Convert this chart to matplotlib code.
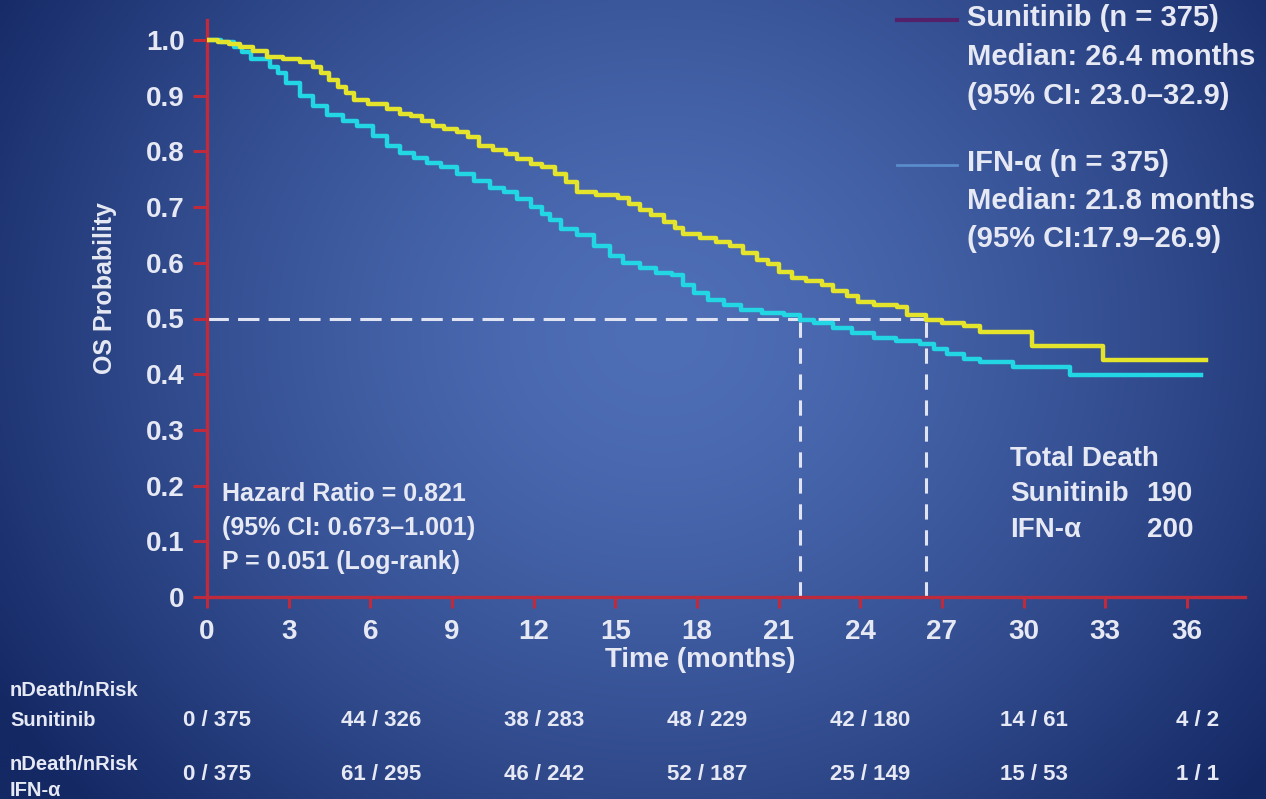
import numpy as np
import matplotlib
matplotlib.use("Agg")
import matplotlib.pyplot as plt
from matplotlib.transforms import blended_transform_factory

plt.rcParams['font.family'] = ['Liberation Sans', 'DejaVu Sans']
plt.rcParams['font.weight'] = 'bold'

# ---- Kaplan-Meier step data (months, survival probability) ----
sun_t = [0, 0.4, 0.8, 1.2, 1.7, 2.2, 2.8, 3.4, 3.9, 4.2, 4.5, 4.8, 5.1, 5.4, 5.9,
         6.6, 7.1, 7.5, 7.9, 8.3, 8.7, 9.2, 9.6, 10.0, 10.5, 11.0, 11.4, 11.9,
         12.3, 12.8, 13.2, 13.6, 14.3, 15.1, 15.5, 15.9, 16.3, 16.8, 17.2, 17.5,
         18.1, 18.7, 19.2, 19.7, 20.2, 20.6, 21.0, 21.5, 22.0, 22.6, 23.0, 23.5,
         23.9, 24.5, 25.35, 25.7, 26.4, 27.0, 27.8, 28.4, 30.3, 32.9, 36.7]
sun_s = [1.0, 0.997, 0.993, 0.988, 0.980, 0.970, 0.965, 0.960, 0.952, 0.940,
         0.928, 0.915, 0.905, 0.893, 0.885, 0.876, 0.868, 0.864, 0.855, 0.846,
         0.840, 0.834, 0.825, 0.810, 0.803, 0.795, 0.787, 0.778, 0.772, 0.760,
         0.745, 0.728, 0.722, 0.716, 0.706, 0.695, 0.685, 0.673, 0.662, 0.652,
         0.645, 0.637, 0.630, 0.618, 0.605, 0.598, 0.583, 0.573, 0.567, 0.560,
         0.550, 0.540, 0.530, 0.525, 0.520, 0.506, 0.498, 0.492, 0.487, 0.476,
         0.450, 0.425, 0.425]

ifn_t = [0, 0.5, 1.0, 1.3, 1.6, 2.3, 2.6, 2.9, 3.4, 3.9, 4.4, 5.0, 5.5, 6.1, 6.6,
         7.1, 7.6, 8.1, 8.6, 9.2, 9.8, 10.4, 10.9, 11.4, 11.9, 12.3, 12.6, 13.0,
         13.6, 14.2, 14.8, 15.3, 15.9, 16.5, 17.1, 17.5, 17.9, 18.4, 19.0, 19.6,
         20.4, 21.2, 21.8, 22.3, 23.0, 23.7, 24.5, 25.3, 26.2, 26.7, 27.2, 27.8,
         28.4, 29.6, 31.7, 36.5]
ifn_s = [1.0, 0.996, 0.987, 0.978, 0.966, 0.952, 0.940, 0.923, 0.900, 0.882,
         0.866, 0.855, 0.845, 0.828, 0.810, 0.798, 0.789, 0.780, 0.772, 0.760,
         0.746, 0.735, 0.728, 0.715, 0.700, 0.688, 0.676, 0.660, 0.650, 0.630,
         0.612, 0.600, 0.591, 0.582, 0.578, 0.560, 0.545, 0.533, 0.525, 0.515,
         0.510, 0.506, 0.498, 0.492, 0.483, 0.474, 0.465, 0.460, 0.455, 0.446,
         0.436, 0.428, 0.422, 0.413, 0.399, 0.399]

sun_median = 26.4
ifn_median = 21.8

x_ticks = list(range(0, 37, 3))
y_ticks = [0, 0.1, 0.2, 0.3, 0.4, 0.5, 0.6, 0.7, 0.8, 0.9, 1.0]
y_tick_labels = ['0', '0.1', '0.2', '0.3', '0.4', '0.5', '0.6', '0.7', '0.8', '0.9', '1.0']

risk_months = [0, 6, 12, 18, 24, 30, 36]
sun_risk = ['0 / 375', '44 / 326', '38 / 283', '48 / 229', '42 / 180', '14 / 61', '4 / 2']
ifn_risk = ['0 / 375', '61 / 295', '46 / 242', '52 / 187', '25 / 149', '15 / 53', '1 / 1']

# ---- colours ----
TXT = '#e6e9f3'
RED = '#bf2a3c'
YEL = '#e4e42c'
CYA = '#22d6e4'
DASH = '#dfe3f2'

W, H = 1266, 799
fig = plt.figure(figsize=(W / 100, H / 100), dpi=100)


def fx(x):
    return x / W


def fy(y):
    return 1 - y / H


# ---- background: soft elliptical blue gradient ----
bg = fig.add_axes([0, 0, 1, 1], zorder=0)
gy, gx = np.mgrid[0:H:4, 0:W:4]
d = np.sqrt(((gx - 660) / 780.0) ** 2 + ((gy - 330) / 700.0) ** 2)
t = np.clip(d, 0, 1) ** 1.5
c_in = np.array([78, 110, 182]) / 255.0
c_out = np.array([20, 40, 100]) / 255.0
img = c_in[None, None, :] * (1 - t[..., None]) + c_out[None, None, :] * t[..., None]
bg.imshow(img, extent=[0, 1, 0, 1], aspect='auto', interpolation='bilinear')
bg.set_xlim(0, 1)
bg.set_ylim(0, 1)
bg.axis('off')

# ---- main plot ----
left, right, bottom, top = 207, 1245, 597, 20
ax = fig.add_axes([fx(left), fy(bottom), fx(right - left), (bottom - top) / H], zorder=2)
ax.patch.set_alpha(0)
px_per_month = 27.22
px_per_unit = 557.0
ax.set_xlim(0, (right - left) / px_per_month)
ax.set_ylim(0, (bottom - top) / px_per_unit)

for s in ['top', 'right']:
    ax.spines[s].set_visible(False)
for s in ['left', 'bottom']:
    ax.spines[s].set_color(RED)
    ax.spines[s].set_linewidth(2.4)

ax.set_xticks(x_ticks)
ax.set_xticklabels([str(v) for v in x_ticks])
ax.set_yticks(y_ticks)
ax.set_yticklabels(y_tick_labels)
ax.tick_params(axis='x', direction='out', length=8, width=2.2, color=RED,
               labelcolor=TXT, labelsize=20, pad=8)
ax.tick_params(axis='y', direction='out', length=10, width=2.2, color=RED,
               labelcolor=TXT, labelsize=20, pad=6)
for lab in ax.get_xticklabels() + ax.get_yticklabels():
    lab.set_fontweight('bold')

# survival curves
ax.plot(sun_t, sun_s, drawstyle='steps-post', color=YEL, lw=3.2, zorder=4)
ax.plot(ifn_t, ifn_s, drawstyle='steps-post', color=CYA, lw=3.2, zorder=3)

# median reference lines
ax.plot([0, sun_median], [0.5, 0.5], color=DASH, lw=2.2, dashes=(7, 3), zorder=2)
ax.plot([ifn_median, ifn_median], [0, 0.5], color=DASH, lw=2.2, dashes=(5, 3.5), zorder=2)
ax.plot([sun_median, sun_median], [0, 0.5], color=DASH, lw=2.2, dashes=(5, 3.5), zorder=2)

# axis titles
fig.text(fx(700), fy(660), 'Time (months)', color=TXT, fontsize=20,
         fontweight='bold', ha='center', va='center')
fig.text(fx(105), fy(288), 'OS Probability', color=TXT, fontsize=18,
         fontweight='bold', ha='center', va='center', rotation=90)

# hazard ratio block
hr_lines = ['Hazard Ratio = 0.821', '(95% CI: 0.673\u20131.001)', 'P = 0.051 (Log-rank)']
for i, s in enumerate(hr_lines):
    fig.text(fx(222), fy(494 + 34 * i), s, color=TXT, fontsize=18,
             fontweight='bold', ha='left', va='center')

# total deaths block
fig.text(fx(1010), fy(459), 'Total Death', color=TXT, fontsize=20,
         fontweight='bold', ha='left', va='center')
fig.text(fx(1010), fy(494), 'Sunitinib', color=TXT, fontsize=20,
         fontweight='bold', ha='left', va='center')
fig.text(fx(1193), fy(494), '190', color=TXT, fontsize=20,
         fontweight='bold', ha='right', va='center')
fig.text(fx(1010), fy(530), 'IFN-\u03b1', color=TXT, fontsize=20,
         fontweight='bold', ha='left', va='center')
fig.text(fx(1193), fy(530), '200', color=TXT, fontsize=20,
         fontweight='bold', ha='right', va='center')

# legend block
fig.add_artist(plt.Line2D([fx(897), fx(957)], [fy(20), fy(20)], color='#55206a', lw=3))
fig.add_artist(plt.Line2D([fx(897), fx(957)], [fy(165), fy(165)], color='#5a8ccc', lw=2))
sun_leg = ['Sunitinib (n = 375)', 'Median: 26.4 months', '(95% CI: 23.0\u201332.9)']
ifn_leg = ['IFN-\u03b1 (n = 375)', 'Median: 21.8 months', '(95% CI:17.9\u201326.9)']
for i, s in enumerate(sun_leg):
    fig.text(fx(967), fy(18 + 39 * i), s, color=TXT, fontsize=21,
             fontweight='bold', ha='left', va='center')
for i, s in enumerate(ifn_leg):
    fig.text(fx(967), fy(163 + 38 * i), s, color=TXT, fontsize=21,
             fontweight='bold', ha='left', va='center')

# numbers-at-risk table
fig.text(fx(10), fy(690), 'nDeath/nRisk', color=TXT, fontsize=14.5, fontweight='bold',
         ha='left', va='center')
fig.text(fx(10), fy(720), 'Sunitinib', color=TXT, fontsize=14.5, fontweight='bold',
         ha='left', va='center')
fig.text(fx(10), fy(765), 'nDeath/nRisk', color=TXT, fontsize=14.5, fontweight='bold',
         ha='left', va='center')
fig.text(fx(10), fy(791), 'IFN-\u03b1', color=TXT, fontsize=14.5, fontweight='bold',
         ha='left', va='center')
row_tr = blended_transform_factory(ax.transData, fig.transFigure)
for m, a, b in zip(risk_months, sun_risk, ifn_risk):
    fig.text(m + 0.38, fy(720), a, color=TXT, fontsize=16, fontweight='bold',
             ha='center', va='center', transform=row_tr)
    fig.text(m + 0.38, fy(774), b, color=TXT, fontsize=16, fontweight='bold',
             ha='center', va='center', transform=row_tr)

fig.savefig('out.png', dpi=100)
